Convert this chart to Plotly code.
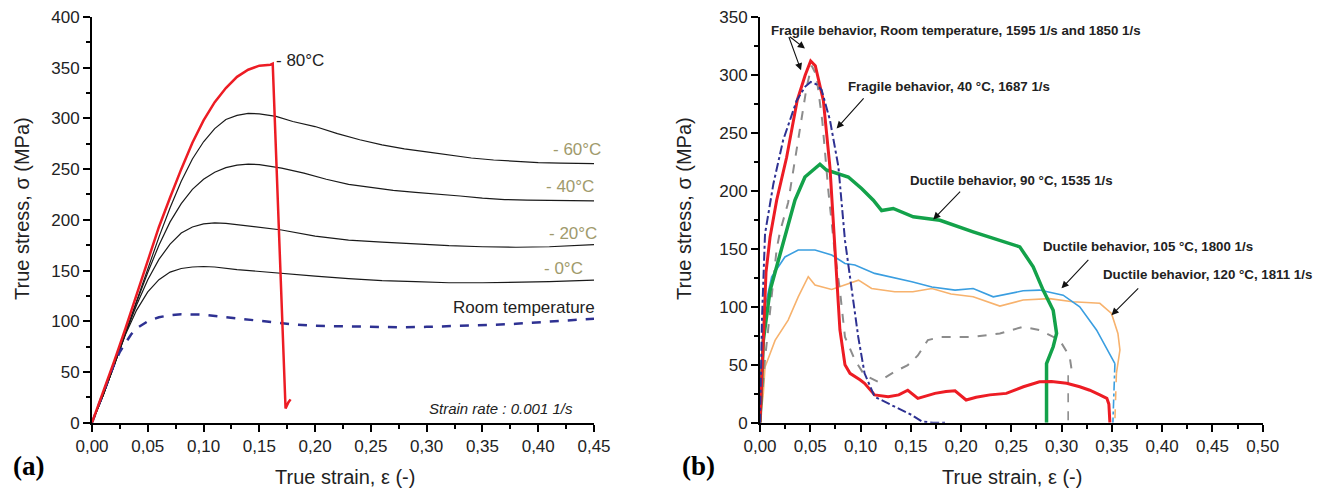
import plotly.graph_objects as go

# ---------------- Panel (a): quasi-static tests ----------------
a_m80_strain = [0, 0.01, 0.02, 0.03, 0.04, 0.05, 0.06, 0.07, 0.08, 0.09, 0.10, 0.11, 0.12, 0.13, 0.14, 0.15, 0.16, 0.162, 0.168, 0.1735, 0.176, 0.178]
a_m80_stress = [0, 30, 61, 93, 127, 160, 193, 222, 250, 276, 298, 316, 330, 341, 348, 352, 353, 354, 170, 14, 20, 23]

a_m60_strain = [0, 0.01, 0.02, 0.03, 0.04, 0.05, 0.06, 0.07, 0.08, 0.09, 0.10, 0.11, 0.12, 0.13, 0.14, 0.15, 0.165, 0.18, 0.20, 0.22, 0.24, 0.26, 0.28, 0.30, 0.32, 0.34, 0.36, 0.38, 0.40, 0.42, 0.45]
a_m60_stress = [0, 27, 57, 89, 121, 152, 183, 212, 238, 260, 277, 290, 299, 303, 305, 304.5, 302, 297, 292, 285, 279, 274, 270, 267, 264, 261, 259, 257.5, 256.5, 256, 255.5]

a_m40_strain = [0, 0.01, 0.02, 0.03, 0.04, 0.05, 0.06, 0.07, 0.08, 0.09, 0.10, 0.11, 0.12, 0.13, 0.14, 0.15, 0.17, 0.19, 0.21, 0.23, 0.25, 0.27, 0.29, 0.31, 0.33, 0.35, 0.37, 0.39, 0.41, 0.43, 0.45]
a_m40_stress = [0, 27, 57, 89, 119, 148, 175, 198, 216, 230, 240, 247, 251.5, 254, 255, 254.5, 251, 246, 240, 235, 232, 229, 227, 225.5, 223.5, 221.5, 220, 219.5, 219, 218.8, 218.7]

a_m20_strain = [0, 0.01, 0.02, 0.03, 0.04, 0.05, 0.06, 0.07, 0.08, 0.09, 0.10, 0.11, 0.12, 0.14, 0.17, 0.20, 0.23, 0.26, 0.29, 0.32, 0.35, 0.38, 0.41, 0.45]
a_m20_stress = [0, 27, 57, 88, 116, 141, 161, 176, 187, 193, 196, 197, 196.5, 194, 190, 184, 180, 178, 176, 174.5, 173.5, 173, 173.5, 175.5]

a_0_strain = [0, 0.01, 0.02, 0.03, 0.04, 0.05, 0.06, 0.07, 0.08, 0.09, 0.10, 0.11, 0.13, 0.15, 0.17, 0.20, 0.23, 0.26, 0.29, 0.32, 0.35, 0.38, 0.41, 0.45]
a_0_stress = [0, 27, 57, 87, 111, 129, 141, 148.5, 152, 153.5, 154, 153.5, 151, 149, 147, 144.5, 142, 140, 139, 138, 138, 138.5, 139, 140.5]

a_rt_strain = [0, 0.01, 0.02, 0.025, 0.03, 0.035, 0.04, 0.05, 0.06, 0.07, 0.08, 0.09, 0.10, 0.12, 0.14, 0.16, 0.18, 0.20, 0.22, 0.24, 0.26, 0.28, 0.30, 0.32, 0.34, 0.36, 0.38, 0.40, 0.42, 0.45]
a_rt_stress = [0, 30, 58, 70, 79, 87, 93, 100, 104, 106, 107, 107, 106.5, 104, 101.5, 99, 97, 95.5, 95, 94.5, 94, 94, 94.5, 95, 95.5, 96.5, 97.5, 99, 100.5, 102.5]

a_labels = ["- 80°C", "- 60°C", "- 40°C", "- 20°C", "- 0°C", "Room temperature"]
a_label_strain = [0.163, 0.458, 0.452, 0.4545, 0.442, 0.4527]
a_label_stress = [357, 269, 232.5, 186.6, 152, 113.3]
a_note = "Strain rate : 0.001 1/s"

# ---------------- Panel (b): dynamic tests ----------------
b_rt1_strain = [0, 0.003, 0.006, 0.01, 0.0166, 0.0265, 0.037, 0.045, 0.0504, 0.055, 0.063, 0.0696, 0.0746, 0.0795, 0.0845, 0.0895, 0.0994, 0.104, 0.114, 0.1275, 0.138, 0.147, 0.157, 0.165, 0.174, 0.185, 0.194, 0.205, 0.215, 0.2286, 0.245, 0.262, 0.278, 0.29, 0.305, 0.318, 0.328, 0.338, 0.345, 0.347, 0.348]
b_rt1_stress = [0, 70, 130, 160, 192, 229, 278, 300, 312, 308, 278, 220, 149, 80, 50, 42.6, 37, 34, 24, 22.4, 24, 28, 21, 23, 25.3, 27, 27.5, 19.6, 22, 24, 25.3, 31, 35.3, 35.5, 34, 31, 28, 24, 21, 16, 0]

b_rt2_strain = [0, 0.005, 0.0166, 0.02, 0.028, 0.0348, 0.0415, 0.0464, 0.0514, 0.056, 0.062, 0.068, 0.074, 0.0795, 0.0845, 0.0944, 0.104, 0.1176, 0.134, 0.147, 0.157, 0.167, 0.18, 0.1925, 0.212, 0.2386, 0.2617, 0.278, 0.298, 0.308, 0.31, 0.3065]
b_rt2_stress = [0, 55, 150, 165, 190, 226, 261, 289.6, 308, 300, 260, 200, 150, 114, 74, 54, 41, 35.3, 44, 49.7, 58, 71.3, 74, 74, 74, 77, 82.8, 80, 71.3, 57, 45.4, 41]
b_rt2_drop_strain = [0.3065, 0.3065]
b_rt2_drop_stress = [41, 0]

b_40_strain = [0, 0.002, 0.005, 0.0133, 0.023, 0.0365, 0.045, 0.0504, 0.056, 0.0613, 0.0696, 0.078, 0.0845, 0.091, 0.0977, 0.104, 0.114, 0.134, 0.151, 0.161, 0.172, 0.184]
b_40_stress = [0, 90, 163, 206, 243.7, 278, 290, 294, 292, 287, 261, 220.7, 157.5, 114, 74, 42.6, 22.4, 13.8, 6.6, 1, 0, 0]

b_90_strain = [0, 0.0033, 0.01, 0.0215, 0.0348, 0.0447, 0.053, 0.0596, 0.066, 0.0746, 0.0878, 0.101, 0.1127, 0.121, 0.1325, 0.1524, 0.179, 0.212, 0.2286, 0.245, 0.2584, 0.2717, 0.2816, 0.2916, 0.295, 0.2916, 0.2866, 0.285, 0.285]
b_90_stress = [0, 71, 114, 149, 192, 212, 218, 223, 218, 215.5, 212, 202, 192, 183, 184.8, 177.6, 174.6, 164.7, 160, 156, 151.7, 134.5, 114.4, 97, 77, 65.5, 55.5, 51, 0]

b_105_strain = [0, 0.0017, 0.005, 0.0116, 0.0248, 0.038, 0.0547, 0.0713, 0.0845, 0.0944, 0.114, 0.151, 0.171, 0.194, 0.212, 0.232, 0.2617, 0.278, 0.3015, 0.318, 0.3347, 0.348, 0.353]
b_105_stress = [0, 50, 100, 125.9, 143, 149, 149, 144.6, 137.4, 136, 128.8, 121.6, 117, 114.4, 115.8, 108.6, 113.8, 114.4, 110, 100, 80, 59.8, 51]
b_105_drop_strain = [0.353, 0.351]
b_105_drop_stress = [51, 0]

b_120_strain = [0, 0.0033, 0.005, 0.015, 0.028, 0.038, 0.048, 0.0547, 0.0713, 0.083, 0.098, 0.111, 0.134, 0.152, 0.171, 0.19, 0.212, 0.2386, 0.2617, 0.288, 0.311, 0.338, 0.3496, 0.356, 0.358, 0.3545]
b_120_stress = [0, 25, 48, 71, 88.5, 108.6, 125.9, 118.7, 115, 118.7, 123, 115.8, 113, 113, 115.8, 111, 108.6, 100.6, 105.8, 107, 104.3, 103, 94.3, 77, 62.7, 42.6]
b_120_drop_strain = [0.3545, 0.3529]
b_120_drop_stress = [42.6, 0]

b_texts = ["Fragile behavior, Room temperature, 1595 1/s and 1850 1/s",
           "Fragile behavior, 40 °C, 1687 1/s",
           "Ductile behavior, 90 °C, 1535 1/s",
           "Ductile behavior, 105 °C, 1800 1/s",
           "Ductile behavior, 120 °C, 1811 1/s"]
b_text_strain = [0.0092, 0.0855, 0.1474, 0.2793, 0.3387]
b_text_stress = [338, 290.3, 209.2, 151.7, 127.9]

# arrows: tail (strain, stress) -> head (strain, stress)
b_arrow_tail_strain = [0.0282, 0.0282, 0.1044, 0.2005, 0.328, 0.3777]
b_arrow_tail_stress = [334, 334, 281, 200.6, 141.7, 117.2]
b_arrow_head_strain = [0.0447, 0.0408, 0.0762, 0.1723, 0.2999, 0.3496]
b_arrow_head_stress = [322.8, 304, 253.8, 175.3, 115.9, 92.8]

FONT = "Liberation Sans, Arial, sans-serif"
OLIVE = "#a09a6c"

# The page body has an 8px default margin; the figure is sized to fit the window.
OFF = 8
W, H = 1323 - OFF, 493 - OFF


def px(xp):
    return (xp - OFF) / W


def py(yp):
    return 1 - (yp - OFF) / H


fig = go.Figure()


def add(x, y, xa, ya, color, width, dash="solid"):
    fig.add_trace(go.Scatter(x=x, y=y, xaxis=xa, yaxis=ya, mode="lines",
                             line=dict(color=color, width=width, dash=dash),
                             showlegend=False, hoverinfo="skip"))


# panel (a)
add(a_m60_strain, a_m60_stress, "x", "y", "#1a1a1a", 1.2)
add(a_m40_strain, a_m40_stress, "x", "y", "#1a1a1a", 1.2)
add(a_m20_strain, a_m20_stress, "x", "y", "#1a1a1a", 1.2)
add(a_0_strain, a_0_stress, "x", "y", "#1a1a1a", 1.2)
add(a_rt_strain, a_rt_stress, "x", "y", "#2e3192", 2.5, "dash")
add(a_m80_strain, a_m80_stress, "x", "y", "#ed1c24", 2.5)

# panel (b)
add(b_120_strain, b_120_stress, "x2", "y2", "#f7b26d", 1.6)
add(b_120_drop_strain, b_120_drop_stress, "x2", "y2", "#f7b26d", 1.6, "dash")
add(b_105_strain, b_105_stress, "x2", "y2", "#3a9ee0", 1.6)
add(b_105_drop_strain, b_105_drop_stress, "x2", "y2", "#3a9ee0", 1.6, "dashdot")
add(b_rt2_strain, b_rt2_stress, "x2", "y2", "#8c8c8c", 2, "dash")
add(b_rt2_drop_strain, b_rt2_drop_stress, "x2", "y2", "#8c8c8c", 1.6, "dash")
add(b_90_strain, b_90_stress, "x2", "y2", "#13a24a", 3.5)
add(b_rt1_strain, b_rt1_stress, "x2", "y2", "#ed1c24", 3)
add(b_40_strain, b_40_stress, "x2", "y2", "#2e3192", 2, "dashdot")

axis_common = dict(showline=True, linecolor="black", linewidth=2, ticks="outside",
                   ticklen=7, tickwidth=1.5, tickcolor="black", showgrid=False,
                   zeroline=False, tickfont=dict(family=FONT, size=17, color="#222"),
                   mirror=False, automargin=False, ticklabeloverflow="allow")
minor_x = dict(ticks="outside", ticklen=4, tickwidth=1.5, tickcolor="black", dtick=0.025)
minor_y = dict(ticks="outside", ticklen=4, tickwidth=1.5, tickcolor="black", dtick=25)

YDOM = [py(422.7), py(17)]

fig.update_layout(
    template="none",
    width=W, height=H, margin=dict(l=0, r=0, t=0, b=0, pad=0),
    paper_bgcolor="white", plot_bgcolor="white", separators=",.",
    font=dict(family=FONT),
    xaxis=dict(domain=[px(92), px(594)], range=[0, 0.45], dtick=0.05, tick0=0,
               tickformat=".2f", anchor="y", minor=minor_x, **axis_common),
    yaxis=dict(domain=YDOM, range=[0, 400], dtick=50, tick0=0, anchor="x",
               minor=minor_y, **axis_common),
    xaxis2=dict(domain=[px(760), px(1262.7)], range=[0, 0.5], dtick=0.05, tick0=0,
                tickformat=".2f", anchor="y2", minor=minor_x, **axis_common),
    yaxis2=dict(domain=YDOM, range=[0, 350], dtick=50, tick0=0, anchor="x2",
                minor=minor_y, **axis_common),
)

ann = []
# axis titles
for xc, yc, txt, ang in [(22, 209, "True stress, σ (MPa)", -90),
                         (684, 209, "True stress, σ (MPa)", -90),
                         (345, 477, "True strain, ε (-)", 0),
                         (1012, 477, "True strain, ε (-)", 0)]:
    ann.append(dict(x=px(xc), y=py(yc), xref="paper", yref="paper", text=txt, textangle=ang,
                    showarrow=False, xanchor="center", yanchor="middle",
                    font=dict(family=FONT, size=20, color="#222")))
# panel labels
for xl, txt in [(11, "<b>(a)</b>"), (680, "<b>(b)</b>")]:
    ann.append(dict(x=px(xl), y=py(466), xref="paper", yref="paper", text=txt,
                    showarrow=False, xanchor="left", yanchor="middle",
                    font=dict(family="Liberation Serif, Times New Roman, serif", size=27, color="black")))

# panel (a) labels (positions beyond the axis end are placed with a pixel shift)
XMAX_A = 0.45
PX_PER_STRAIN_A = 502 / 0.45
for i, txt in enumerate(a_labels):
    col = "#222" if i in (0, 5) else OLIVE
    anchor = "left" if i == 0 else "right"
    xs = min(a_label_strain[i], XMAX_A)
    shift = (a_label_strain[i] - xs) * PX_PER_STRAIN_A
    ann.append(dict(x=xs, y=a_label_stress[i], xref="x", yref="y", text=txt, xshift=shift,
                    showarrow=False, xanchor=anchor, yanchor="middle",
                    font=dict(family=FONT, size=17, color=col)))
ann.append(dict(x=0.433, y=14.2, xref="x", yref="y", text="<i>" + a_note + "</i>",
                showarrow=False, xanchor="right", yanchor="middle",
                font=dict(family=FONT, size=15, color="#222")))

# panel (b) texts
for i, txt in enumerate(b_texts):
    ann.append(dict(x=b_text_strain[i], y=b_text_stress[i], xref="x2", yref="y2",
                    text="<b>" + txt + "</b>", showarrow=False, xanchor="left", yanchor="middle",
                    font=dict(family=FONT, size=13.3, color="#222")))
# panel (b) arrows
for i in range(len(b_arrow_tail_strain)):
    ann.append(dict(x=b_arrow_head_strain[i], y=b_arrow_head_stress[i], xref="x2", yref="y2",
                    ax=b_arrow_tail_strain[i], ay=b_arrow_tail_stress[i], axref="x2", ayref="y2",
                    text="", showarrow=True, arrowhead=2, arrowsize=1.3, arrowwidth=1.1,
                    arrowcolor="#111", standoff=0, startstandoff=0))

fig.update_layout(annotations=ann)
fig.write_html("out.html")
